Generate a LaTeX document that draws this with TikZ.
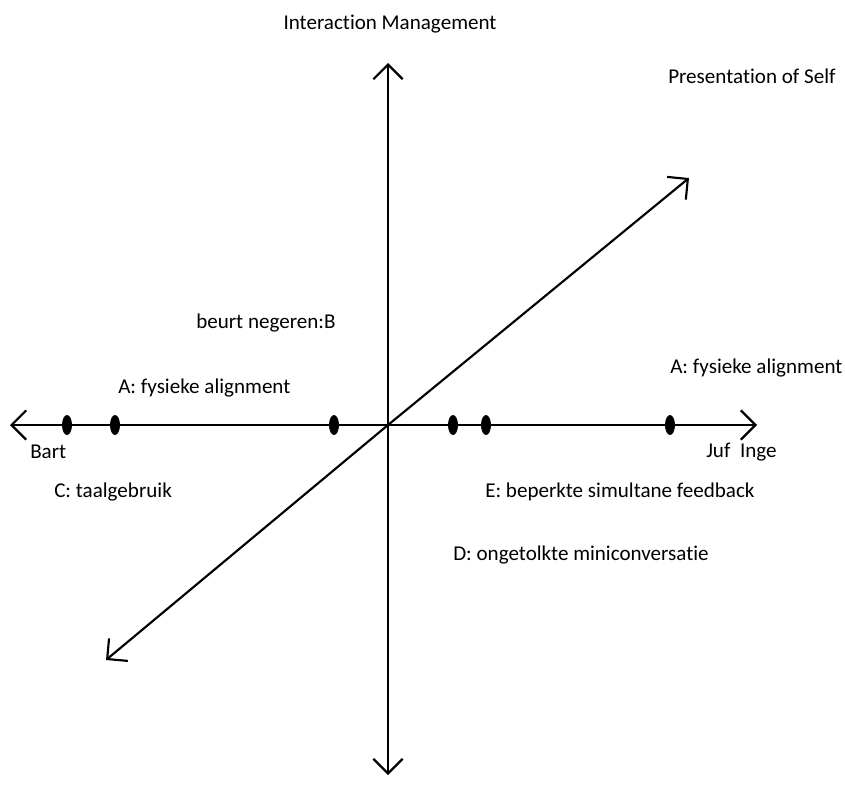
\documentclass[tikz,border=0pt]{standalone}
\usepackage{fontspec}
\setmainfont{Carlito}[Ligatures={NoCommon}]
\usetikzlibrary{arrows.meta,shapes.geometric}
\begin{document}
\begin{tikzpicture}[x=0.75pt,y=-0.75pt,
  axis/.style={line width=1.6pt,-{Straight Barb[length=11pt,width=22pt,line width=1.6pt]}},
  dot/.style={fill=black,ellipse,inner sep=0pt,minimum width=7.5pt,minimum height=15pt},
  lbl/.style={anchor=west,inner sep=0pt,font=\fontsize{15.8}{18}\selectfont}]
\useasboundingbox (0,0) rectangle (845,798);
% axis ends
\coordinate (O) at (388,425);
\coordinate (L) at (10,425);
\coordinate (R) at (757,425);
\coordinate (T) at (388,63);
\coordinate (B) at (388,775);
\coordinate (NE) at (689,178);
\coordinate (SW) at (106,660);
% axes
\draw[axis] (O) -- (L);
\draw[axis] (O) -- (R);
\draw[axis] (O) -- (T);
\draw[axis] (O) -- (B);
\draw[axis] (O) -- (NE);
\draw[axis] (O) -- (SW);
% points on the horizontal axis
\node[dot] (p1) at (67,425) {};
\node[dot] (p2) at (115,425) {};
\node[dot] (p3) at (334,425) {};
\node[dot] (p4) at (453,425) {};
\node[dot] (p5) at (486,425) {};
\node[dot] (p6) at (670,425) {};
% labels
\node[lbl,anchor=center] (im) at (390,24) {Interaction Management};
\node[lbl] (ps) at (668,76) {Presentation of Self};
\node[lbl] (bn) at (196,323) {beurt negeren:B};
\node[lbl] (fa1) at (118,388) {A: fysieke alignment};
\node[lbl] (fa2) at (670,368) {A: fysieke alignment};
\node[lbl] (bart) at (30,452) {Bart};
\node[lbl] (juf) at (706,452) {Juf\ \ Inge};
\node[lbl] (tg) at (54,492) {C: taalgebruik};
\node[lbl] (fb) at (485,492) {E: beperkte simultane feedback};
\node[lbl] (mc) at (453,555) {D: ongetolkte miniconversatie};
\end{tikzpicture}
\end{document}
